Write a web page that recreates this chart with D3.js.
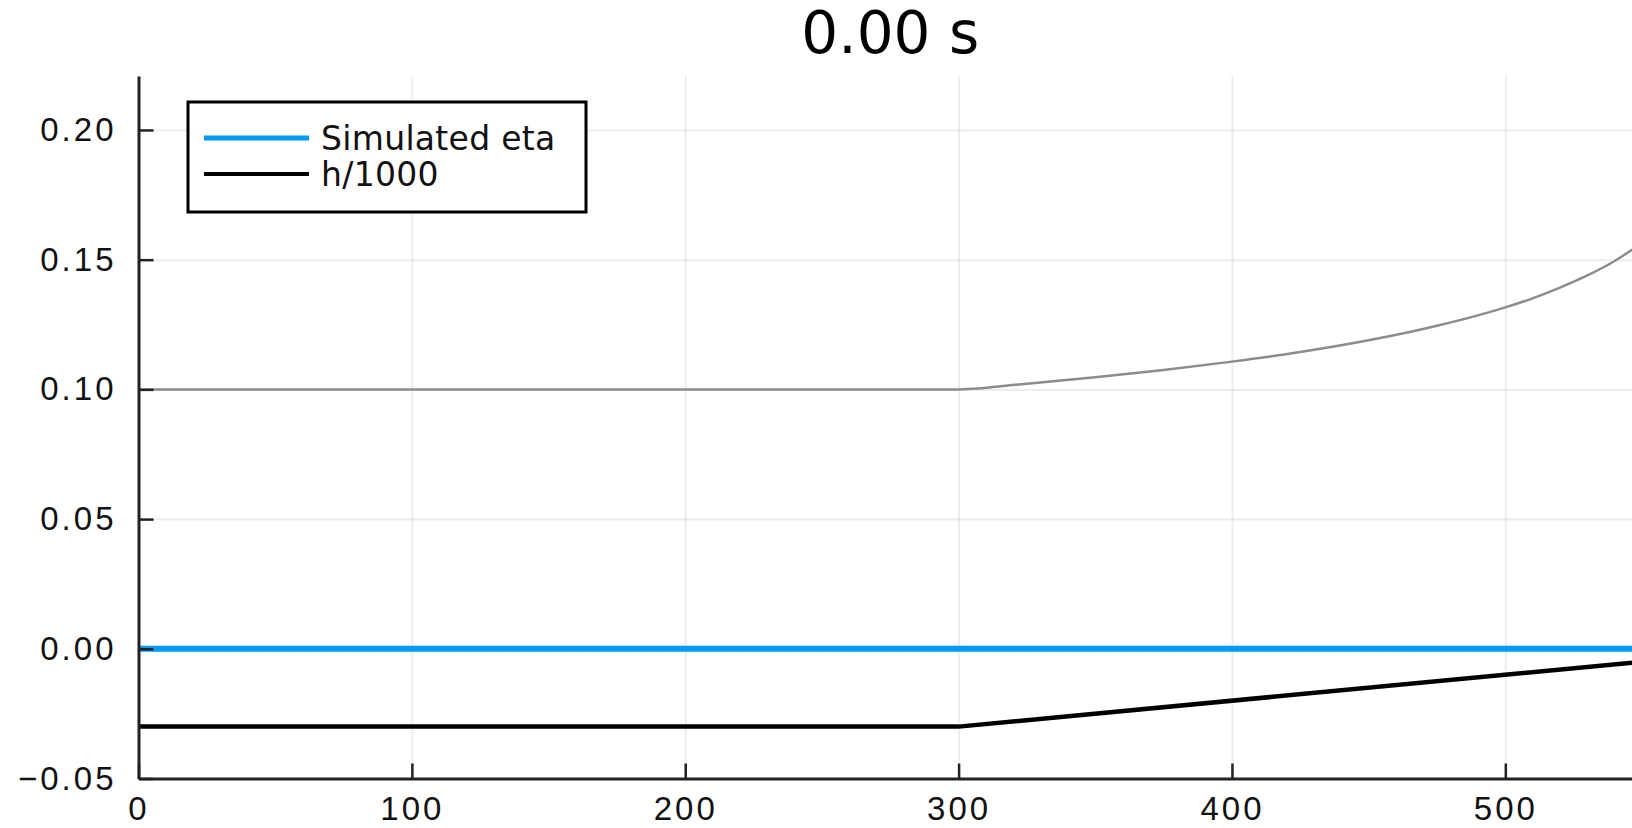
<!DOCTYPE html>
<html>
<head>
<meta charset="utf-8">
<script src="https://cdn.jsdelivr.net/npm/d3@7"></script>
<style>
  body { margin: 0; background: #fff; overflow: hidden; }
  svg { display: block; font-family: "DejaVu Sans", sans-serif; }
</style>
</head>
<body>
<div id="chart"></div>
<script>

// values
const titleText = "0.00 s";
const xTicks = [0, 100, 200, 300, 400, 500];
const yTicks = [-0.05, 0, 0.05, 0.10, 0.15, 0.20];

const etaX = [0, 550];
const etaY = [0, 0];

const bedX = [0, 300, 550];
const bedY = [-0.03, -0.03, -0.005];

const ampX = [0, 300, 325, 350, 375, 400, 425, 450, 475, 500, 510, 520, 530, 540, 550];
const ampY = [0.100, 0.100, 0.1022, 0.1047, 0.1075, 0.1107, 0.1144, 0.1189, 0.1245, 0.1316, 0.1351, 0.1392, 0.1439, 0.1495, 0.1565];

const legendNames = ["Simulated eta", "h/1000"];
const legendColors = ["#009af9", "#000000"];

const width = 1632;
const height = 828;

const plotLeft = 138.5, plotRight = 1642, plotTop = 76, plotBottom = 778.5;

let svg = d3.select("#chart")
    .append("svg")
    .attr("width", width)
    .attr("height", height);

let xScale = d3.scaleLinear()
    .domain([0, 550])
    .range([plotLeft, plotRight]);

let yScale = d3.scaleLinear()
    .domain([-0.05, 0.2208])
    .range([plotBottom, plotTop]);

// grid
svg.append("g")
    .attr("transform", `translate(0, ${plotBottom})`)
    .call(d3.axisBottom(xScale).tickValues(xTicks).tickSize(-(plotBottom - plotTop)).tickFormat(""))
    .call(g => g.select(".domain").remove())
    .selectAll("line")
    .attr("stroke", "#000")
    .attr("stroke-opacity", 0.07)
    .attr("stroke-width", 2);

svg.append("g")
    .attr("transform", `translate(${plotLeft}, 0)`)
    .call(d3.axisLeft(yScale).tickValues(yTicks).tickSize(-(plotRight - plotLeft)).tickFormat(""))
    .call(g => g.select(".domain").remove())
    .selectAll("line")
    .attr("stroke", "#000")
    .attr("stroke-opacity", 0.07)
    .attr("stroke-width", 2);

// series
let line = d3.line()
    .x(d => xScale(d[0]))
    .y(d => yScale(d[1]))
    .curve(d3.curveMonotoneX);

svg.append("path")
    .datum(d3.zip(ampX, ampY))
    .attr("fill", "none")
    .attr("stroke", "#8c8c8c")
    .attr("stroke-width", 2.5)
    .attr("d", line);

svg.append("path")
    .datum(d3.zip(bedX, bedY))
    .attr("fill", "none")
    .attr("stroke", "#000")
    .attr("stroke-width", 4.5)
    .attr("d", line.curve(d3.curveLinear));

svg.append("path")
    .datum(d3.zip(etaX, etaY))
    .attr("fill", "none")
    .attr("stroke", "#009af9")
    .attr("stroke-width", 6)
    .attr("d", line);

// axes
let xAxis = d3.axisBottom(xScale)
    .tickValues(xTicks)
    .tickSizeInner(-15)
    .tickSizeOuter(0)
    .tickPadding(18)
    .tickFormat(d3.format("d"));

let yAxis = d3.axisLeft(yScale)
    .tickValues(yTicks)
    .tickSizeInner(-15)
    .tickSizeOuter(0)
    .tickPadding(22)
    .tickFormat(d3.format(".2f"));

svg.append("g")
    .attr("class", "x-axis")
    .attr("transform", `translate(0, ${plotBottom})`)
    .call(xAxis);

svg.append("g")
    .attr("class", "y-axis")
    .attr("transform", `translate(${plotLeft}, 0)`)
    .call(yAxis);

svg.selectAll(".x-axis .domain, .y-axis .domain")
    .attr("stroke", "#222")
    .attr("stroke-width", 3);

svg.selectAll(".x-axis .tick line, .y-axis .tick line")
    .attr("stroke", "#222")
    .attr("stroke-width", 2.5);

svg.selectAll(".x-axis text, .y-axis text")
    .attr("fill", "#111")
    .style("font-size", "33px")
    .style("letter-spacing", "3px");

// title
svg.append("text")
    .attr("x", (plotLeft + plotRight) / 2)
    .attr("y", 53)
    .attr("text-anchor", "middle")
    .attr("fill", "#000")
    .style("font-size", "58px")
    .text(titleText);

// legend
let legend = svg.append("g");

legend.append("rect")
    .attr("x", 188)
    .attr("y", 102)
    .attr("width", 398)
    .attr("height", 110)
    .attr("fill", "#fff")
    .attr("stroke", "#000")
    .attr("stroke-width", 3);

legend.selectAll("line.key")
    .data(legendNames)
    .join("line")
    .attr("class", "key")
    .attr("x1", 204)
    .attr("x2", 309)
    .attr("y1", (d, i) => 138 + i * 36)
    .attr("y2", (d, i) => 138 + i * 36)
    .attr("stroke", (d, i) => legendColors[i])
    .attr("stroke-width", (d, i) => i === 0 ? 5 : 4);

legend.selectAll("text.key")
    .data(legendNames)
    .join("text")
    .attr("class", "key")
    .attr("x", 321)
    .attr("y", (d, i) => 138 + i * 36)
    .attr("dy", "0.36em")
    .attr("fill", "#111")
    .style("font-size", "33px")
    .style("letter-spacing", "0.3px")
    .text(d => d);

</script>
</body>
</html>
